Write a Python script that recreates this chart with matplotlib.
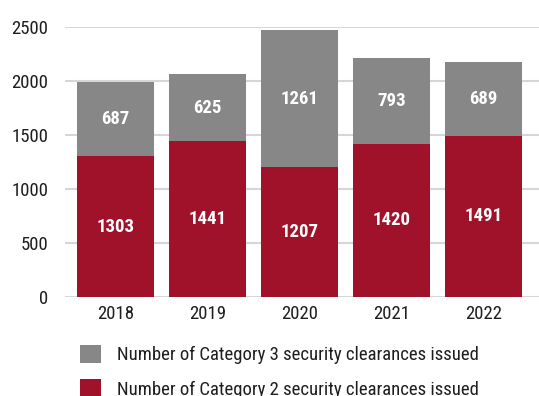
import matplotlib
matplotlib.use("Agg")
import matplotlib.pyplot as plt
import numpy as np

years = ["2018", "2019", "2020", "2021", "2022"]
cat2 = [1303, 1441, 1207, 1420, 1491]
cat3 = [687, 625, 1261, 793, 689]

RED = "#A0122A"
GREY = "#878787"

plt.rcParams["font.family"] = ["Roboto Condensed", "Liberation Sans"]

fig = plt.figure(figsize=(5.39, 3.96), dpi=100)
ax = fig.add_axes([65 / 539, 1 - 297 / 396, 1 - 65 / 539, 270 / 396])

x = np.arange(len(years))
b2 = ax.bar(x, cat2, width=0.84, color=RED, zorder=3,
            label="Number of Category 2 security clearances issued")
b3 = ax.bar(x, cat3, width=0.84, bottom=cat2, color=GREY, zorder=3,
            label="Number of Category 3 security clearances issued")

# values in the middle of each segment
for bars in (b2, b3):
    ax.bar_label(bars, label_type="center", color="white",
                 fontsize=13.5, fontweight="bold")

ax.set_xlim(-0.55, 4.6)
ax.set_ylim(0, 2500)
ax.set_yticks([0, 500, 1000, 1500, 2000, 2500])
ax.set_xticks(x)
ax.set_xticklabels(years)
ax.tick_params(axis="both", length=0, labelsize=13.5, colors="#1e1e1e")
ax.tick_params(axis="y", pad=12)
ax.tick_params(axis="x", pad=6)
ax.grid(axis="y", color="#d6d6d6", linewidth=1.5, zorder=0)
ax.set_axisbelow(True)
for s in ax.spines.values():
    s.set_visible(False)

fig.legend(handles=[b3, b2], loc="upper left",
           bbox_to_anchor=(80 / 539, 1 - 345 / 396),
           frameon=False, fontsize=13.5, borderpad=0, borderaxespad=0,
           handlelength=1.12, handleheight=1.12, handletextpad=0.85,
           labelspacing=0.8, labelcolor="#1e1e1e")

fig.savefig("out.png", dpi=100)
